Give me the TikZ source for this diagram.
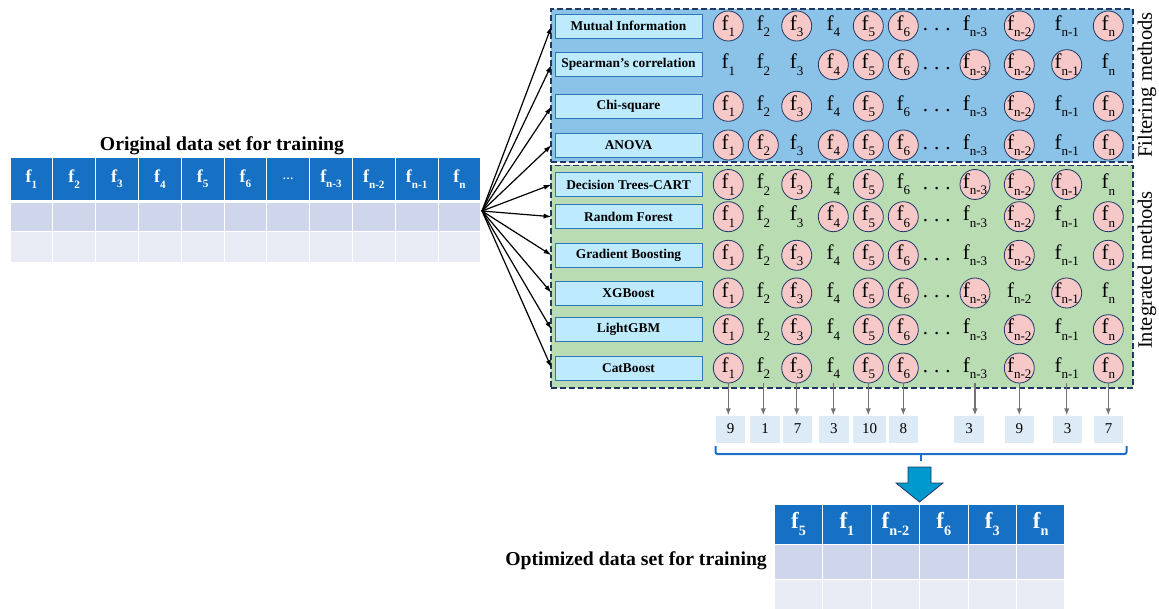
\documentclass[tikz,border=0pt]{standalone}
\usepackage{fontspec}
\setmainfont{Liberation Serif}
\usetikzlibrary{arrows.meta}
\definecolor{hdr}{RGB}{22,112,196}
\definecolor{rowA}{RGB}{207,213,234}
\definecolor{rowB}{RGB}{233,235,245}
\definecolor{filt}{RGB}{138,194,232}
\definecolor{integ}{RGB}{185,220,178}
\definecolor{navy}{RGB}{31,56,100}
\definecolor{labfill}{RGB}{189,234,252}
\definecolor{labdraw}{RGB}{46,117,182}
\definecolor{pinkc}{RGB}{246,200,200}
\definecolor{numfill}{RGB}{221,235,247}
\definecolor{grayarr}{RGB}{118,113,113}
\definecolor{bracec}{RGB}{30,110,200}
\definecolor{bigarr}{RGB}{0,153,206}
\newcommand\sbs[1]{\raisebox{-0.3em}{\scalebox{0.62}{#1}}}
\begin{document}
\begin{tikzpicture}[x=1pt,y=-1pt,
  hcell/.style={fill=hdr, text=white, minimum width=41.8pt, minimum height=42pt, inner sep=0pt, font=\fontsize{18}{18}\selectfont\bfseries},
  rcellA/.style={fill=rowA, minimum width=41.8pt, minimum height=28pt, inner sep=0pt},
  rcellB/.style={fill=rowB, minimum width=41.8pt, minimum height=29.5pt, inner sep=0pt},
  bhcell/.style={fill=hdr, text=white, minimum width=47.4pt, minimum height=38.5pt, inner sep=0pt, font=\fontsize{23}{23}\selectfont\bfseries},
  bcellA/.style={fill=rowA, minimum width=47.4pt, minimum height=33.5pt, inner sep=0pt},
  bcellB/.style={fill=rowB, minimum width=47.4pt, minimum height=31pt, inner sep=0pt},
  title/.style={font=\fontsize{19.7}{21}\selectfont\bfseries, inner sep=0pt},
  groupbox/.style={draw=navy, line width=1.4pt, dash pattern=on 6pt off 3pt, inner sep=0pt},
  method/.style={draw=labdraw, line width=0.8pt, fill=labfill, minimum width=147pt, minimum height=24pt, inner sep=0pt, font=\fontsize{13.4}{13.4}\selectfont\bfseries},
  sel/.style={circle, draw=navy, line width=0.8pt, fill=pinkc, minimum size=30pt, inner sep=0pt},
  nosel/.style={circle, minimum size=30pt, inner sep=0pt},
  ftext/.style={inner sep=0pt, font=\fontsize{21}{21}\selectfont},
  dots/.style={inner sep=0pt, anchor=base, font=\fontsize{21}{21}\selectfont},
  arr/.style={line width=1.2pt, -{Latex[length=8pt,width=5pt]}},
  garr/.style={draw=grayarr, line width=1.4pt, -{Latex[length=7pt,width=5.5pt]}},
  numbox/.style={fill=numfill, minimum height=27pt, inner sep=0pt, font=\fontsize{15}{15}\selectfont},
  vlabel/.style={rotate=90, inner sep=0pt, font=\fontsize{20.5}{22}\selectfont},
  bracestyle/.style={draw=bracec, line width=2pt}
]
\useasboundingbox (0,0) rectangle (1159,609);

% ---------- original table
\node[title] (otitle) at (222,146) {Original data set for training};
\foreach \lbl [count=\i from 0] in {{f\sbs{1}},{f\sbs{2}},{f\sbs{3}},{f\sbs{4}},{f\sbs{5}},{f\sbs{6}},{{\fontsize{11}{11}\selectfont\dots}},{f\sbs{n-3}},{f\sbs{n-2}},{f\sbs{n-1}},{f\sbs{n}}}{
  \pgfmathsetmacro\cx{10+42.8*\i+21.4}
  \node[hcell] (oh\i) at (\cx,179) {\lbl};
  \node[rcellA] (oa\i) at (\cx,217) {};
  \node[rcellB] (ob\i) at (\cx,247.25) {};
}
\coordinate (src) at (482,211);

% ---------- group boxes
\node[groupbox, fill=filt, minimum width=582pt, minimum height=153pt] (filt) at (842,85.5) {};
\node[groupbox, fill=integ, minimum width=582pt, minimum height=222.5pt] (integ) at (842,276.75) {};
\node[vlabel] (vf) at (1147,85) {Filtering methods};
\node[vlabel] (vi) at (1147,270) {Integrated methods};

% ---------- methods and features
\foreach \ry/\nm/\sa/\sb/\sc/\sd/\se/\sf/\sg/\sh/\si/\sj [count=\r] in {
  26/Mutual Information/1/0/1/0/1/1/0/1/0/1,
  64.7/Spearman's correlation/0/0/0/1/1/1/1/1/1/0,
  106.3/Chi-square/1/0/1/0/1/0/0/1/0/1,
  145/ANOVA/1/1/0/1/1/1/0/1/0/1,
  184.5/Decision Trees-CART/1/0/1/0/1/0/1/1/1/0,
  216.7/Random Forest/1/0/0/1/1/1/0/1/0/1,
  255.3/Gradient Boosting/1/0/1/0/1/1/0/1/0/1,
  293/XGBoost/1/0/1/0/1/1/1/0/1/0,
  329.7/LightGBM/1/0/1/0/1/1/0/1/0/1,
  368/CatBoost/1/0/1/0/1/1/0/1/0/1}{
  \node[method] (m\r) at (628.5,\ry) {\nm};
  \draw[arr] (src) -- ([xshift=-3pt]m\r.west);
  \foreach \cx/\cl/\s [count=\c] in {728.3/1/\sa,763.3/2/\sb,796.7/3/\sc,833.3/4/\sd,868.3/5/\se,903.3/6/\sf,975/n-3/\sg,1019.3/n-2/\sh,1066.7/n-1/\si,1108.3/n/\sj}{
    \ifnum\s=1 \def\st{sel}\else\def\st{nosel}\fi
    \node[\st] (c\r-\c) at (\cx,\ry) {};
    \node[ftext] (t\r-\c) at (c\r-\c) {f\sbs{\cl}};
  }
  \node[dots] (d\r) at (936.7,{\ry+5}) {.\hspace{6pt}.\hspace{6pt}.};
}

% ---------- counts
\foreach \bx/\nv/\bw [count=\c] in {730.5/9/29.5,765/1/29.5,797.7/7/29.5,833.8/3/29.5,869.7/10/33,903.3/8/29.5,969/3/29.5,1019.3/9/29.5,1067.7/3/29.5,1108.7/7/29.5}{
  \node[numbox, minimum width=\bw pt] (nb\c) at (\bx,429) {\nv};
  \draw[garr] (c10-\c.south) -- (c10-\c.south |- nb\c.north);
}

% ---------- brace and big arrow
\coordinate (bl) at (715.5,446);
\coordinate (br) at (1126.5,446);
\coordinate (bm) at (920.5,454);
\draw[bracestyle, rounded corners=2pt] (bl) |- (br |- bm) -- (br);
\draw[bracestyle] (bm) -- ++(0,7);
\draw[fill=bigarr, draw=navy, line width=0.8pt] (908,467) -- (931,467) -- (931,483) -- (943,483) -- (919.5,502) -- (896,483) -- (908,483) -- cycle;

% ---------- optimized table
\node[title, anchor=east] (ntitle) at (767,561) {Optimized data set for training};
\foreach \lbl [count=\i from 0] in {{f\sbs{5}},{f\sbs{1}},{f\sbs{n-2}},{f\sbs{6}},{f\sbs{3}},{f\sbs{n}}}{
  \pgfmathsetmacro\cx{774.3+48.45*\i+24.2}
  \node[bhcell] (bh\i) at (\cx,524.25) {\lbl};
  \node[bcellA] (ba\i) at (\cx,561.75) {};
  \node[bcellB] (bb\i) at (\cx,595.5) {};
}
\end{tikzpicture}
\end{document}
